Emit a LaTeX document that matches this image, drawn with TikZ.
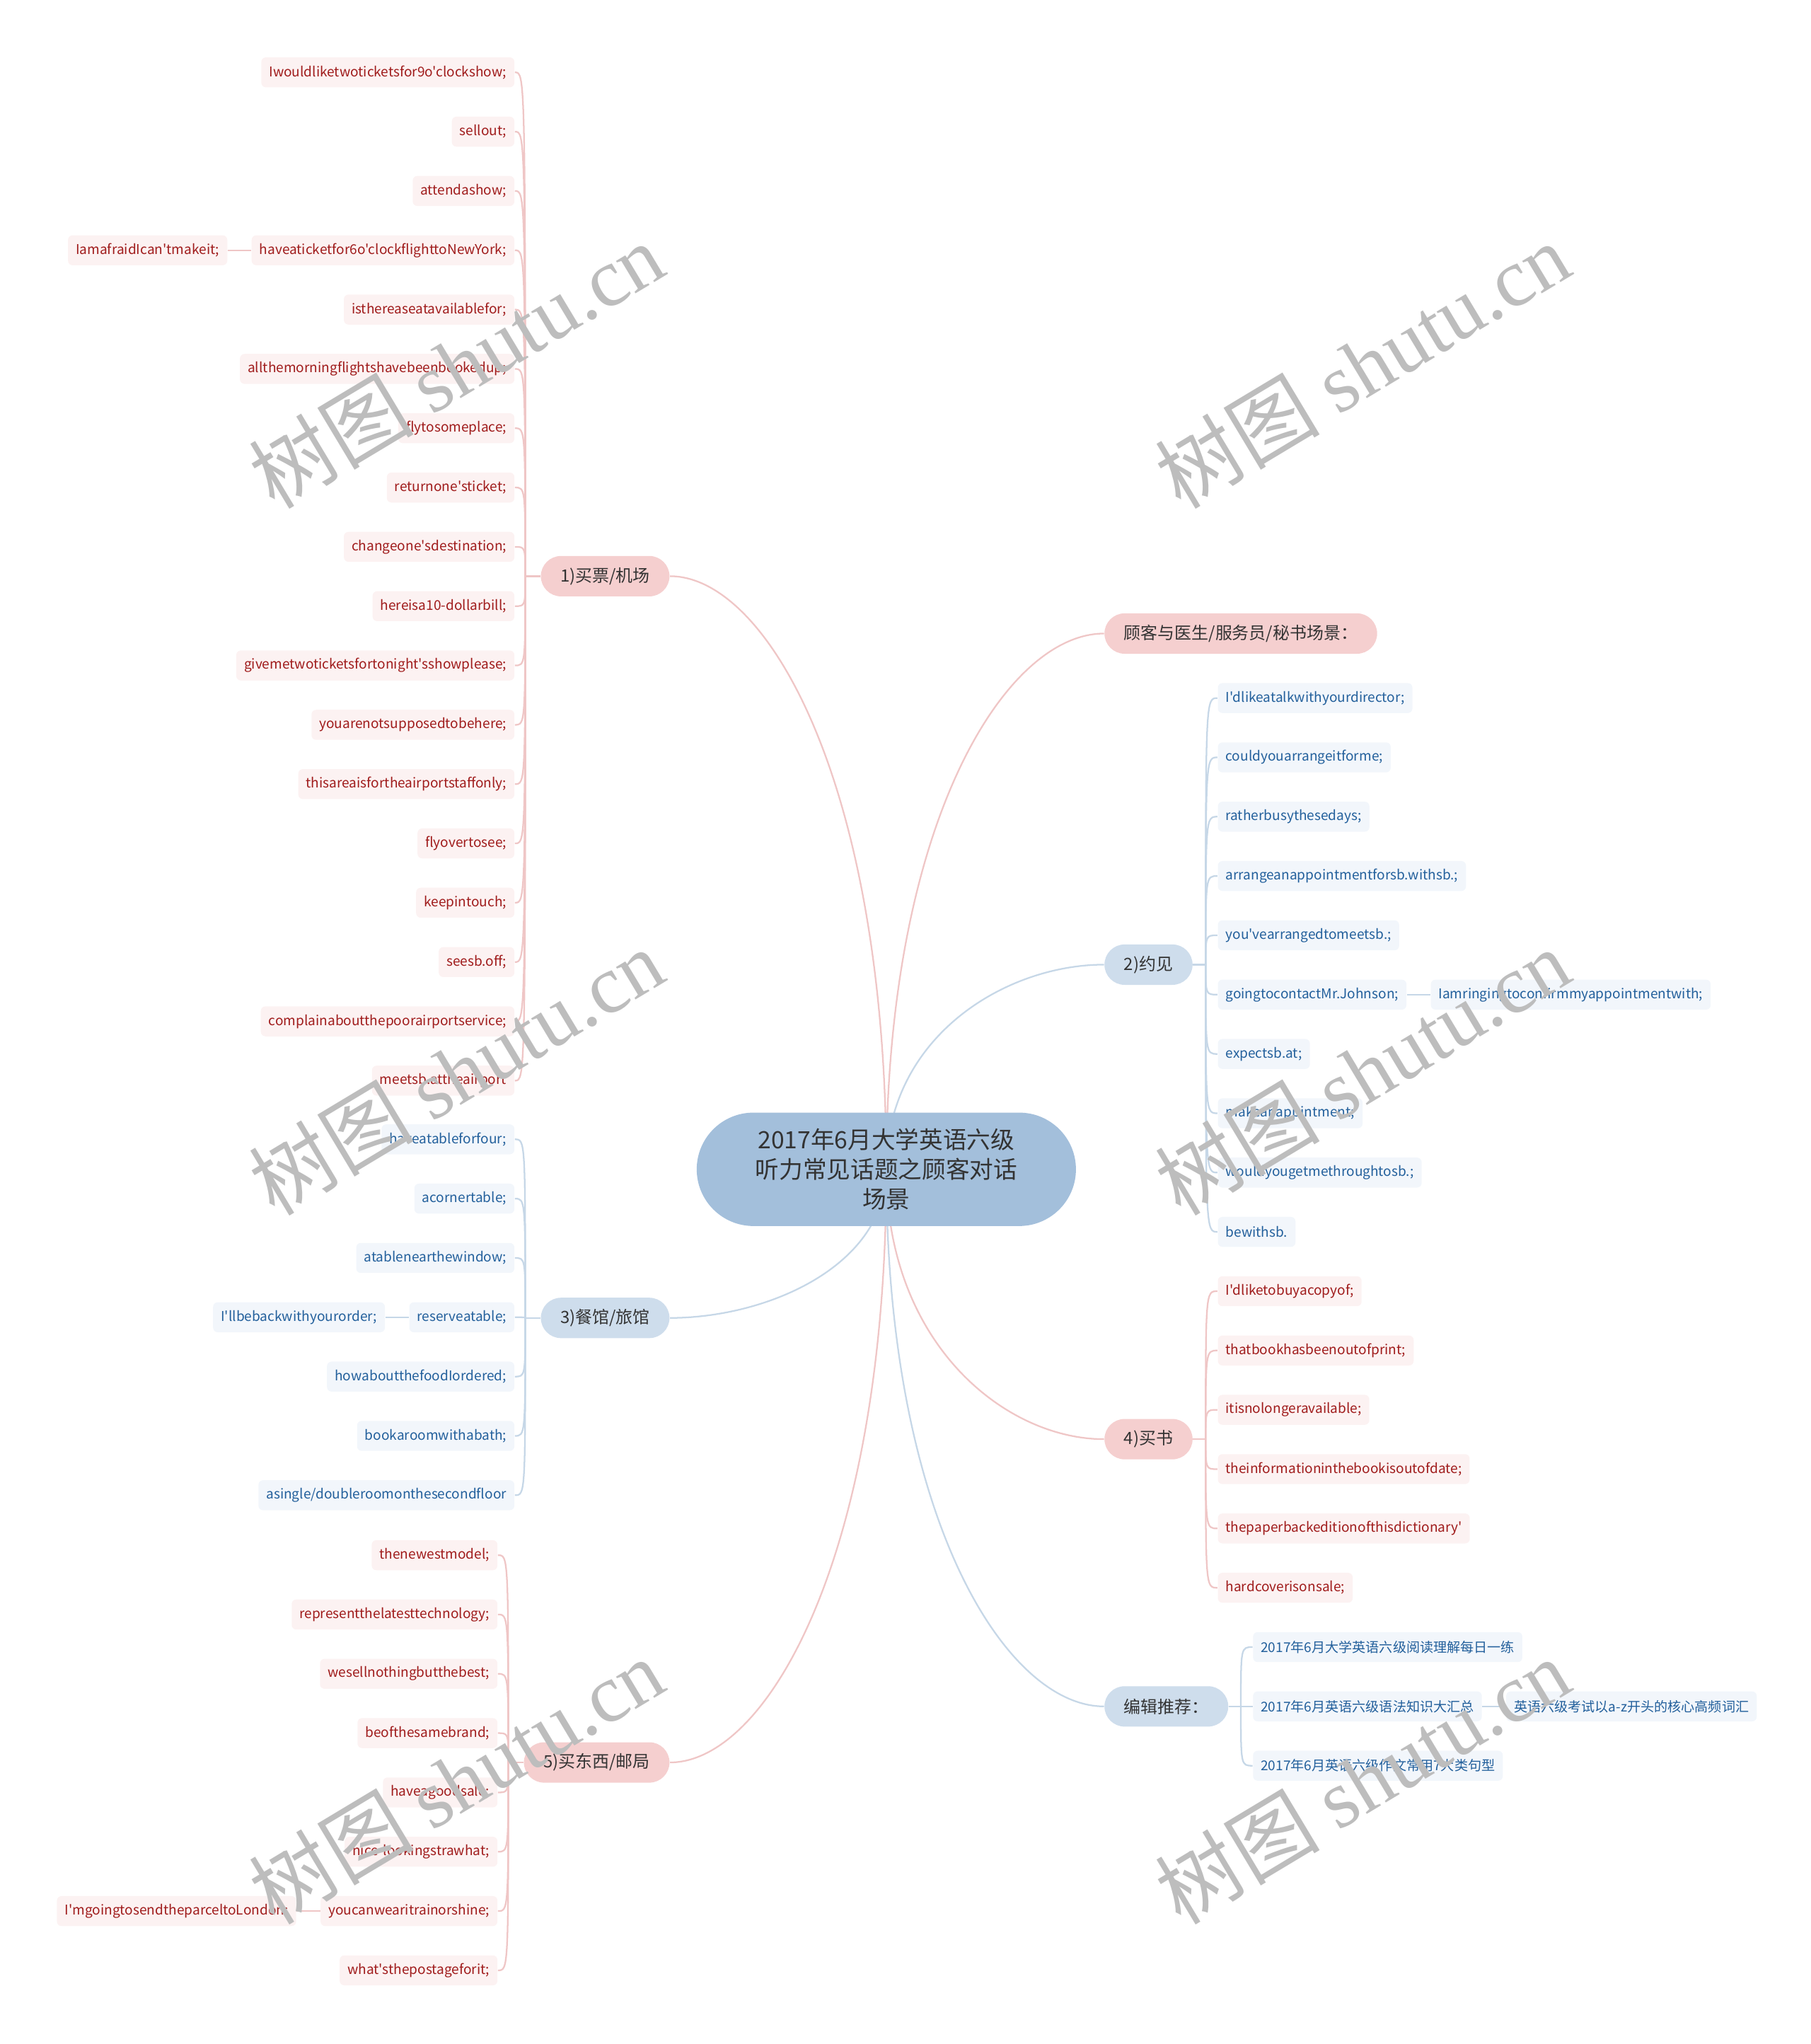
\documentclass[tikz,border=0pt]{standalone}
\usepackage{fontspec}
\setmainfont{Noto Sans CJK SC}[Ligatures=TeXOff]
\newfontfamily\wmlatin{Liberation Serif}
\usetikzlibrary{positioning,calc,backgrounds}
\definecolor{rootblue}{HTML}{A3BFDB}
\definecolor{bpink}{HTML}{F5CFCF}
\definecolor{bblue}{HTML}{CEDDEC}
\definecolor{lpink}{HTML}{FCF2F2}
\definecolor{lblue}{HTML}{F2F6FB}
\definecolor{tred}{HTML}{A01C1C}
\definecolor{tblue}{HTML}{23609C}
\definecolor{kpink}{HTML}{EFC6C6}
\definecolor{kblue}{HTML}{C6D7E7}
\definecolor{tdark}{HTML}{333333}
\begin{document}
\begin{tikzpicture}[x=0.02cm, y=-0.02cm,
  every node/.style={inner sep=0pt},
  leaf/.style={rounded corners=2pt, minimum height=0.46cm, inner xsep=0.12cm,
    font=\fontsize{5.9}{7}\selectfont},
  leafred/.style={leaf, fill=lpink, text=tred},
  leafblue/.style={leaf, fill=lblue, text=tblue},
  topic/.style={rounded corners=0.31cm, minimum height=0.62cm, inner xsep=0.3cm,
    text=tdark, font=\fontsize{7.4}{9}\selectfont},
  topicred/.style={topic, fill=bpink},
  topicblue/.style={topic, fill=bblue},
  linkred/.style={draw=kpink, line width=0.7pt},
  linkblue/.style={draw=kblue, line width=0.7pt},
  watermark/.style={text=black!26, font=\fontsize{36}{36}\selectfont, rotate=31}
]
\useasboundingbox (0,0) rectangle (1389,1568);

% central topic
\node[fill=rootblue, rounded corners=0.87cm, minimum width=5.82cm, minimum height=1.74cm,
  align=center, text=tdark, font=\fontsize{10.4}{13}\selectfont] (root) at (680,897)
  {2017年6月大学英语六级\\听力常见话题之顾客对话\\场景};

% main topics
\node[topicred, anchor=east] (b1) at (514,442) {1)买票/机场};
\node[topicblue, anchor=east] (b3) at (514,1011) {3)餐馆/旅馆};
\node[topicred, anchor=east] (b5) at (514,1352) {5)买东西/邮局};
\node[topicred, anchor=west] (b0) at (847,486) {顾客与医生/服务员/秘书场景：};
\node[topicblue, anchor=west] (b2) at (847,740) {2)约见};
\node[topicred, anchor=west] (b4) at (847,1104) {4)买书};
\node[topicblue, anchor=west] (b6) at (847,1309) {编辑推荐：};

% 1) tickets / airport
\foreach \t [count=\i] in {Iwouldliketwoticketsfor9o'clockshow;, sellout;, attendashow;,
    haveaticketfor6o'clockflighttoNewYork;, isthereaseatavailablefor;,
    allthemorningflightshavebeenbookedup;, flytosomeplace;, returnone'sticket;,
    changeone'sdestination;, hereisa10-dollarbill;, givemetwoticketsfortonight'sshowplease;,
    youarenotsupposedtobehere;, thisareaisfortheairportstaffonly;, flyovertosee;,
    keepintouch;, seesb.off;, complainaboutthepoorairportservice;, meetsb.attheairport}
  \node[leafred, anchor=east] (a\i) at (395,10+\i*45.5) {\t};
\node[leafred, left=0.36cm of a4] (a4c) {IamafraidIcan'tmakeit;};

% 3) restaurant / hotel
\foreach \t [count=\i] in {haveatableforfour;, acornertable;, atablenearthewindow;,
    reserveatable;, howaboutthefoodIordered;, bookaroomwithabath;,
    asingle/doubleroomonthesecondfloor}
  \node[leafblue, anchor=east] (c\i) at (395,828.5+\i*45.5) {\t};
\node[leafblue, left=0.36cm of c4] (c4c) {I'llbebackwithyourorder;};

% 5) shopping / post office
\foreach \t [count=\i] in {thenewestmodel;, representthelatesttechnology;,
    wesellnothingbutthebest;, beofthesamebrand;, haveagoodsale;,
    nice-lookingstrawhat;, youcanwearitrainorshine;, what'sthepostageforit;}
  \node[leafred, anchor=east] (e\i) at (382,1147.5+\i*45.5) {\t};
\node[leafred, left=0.36cm of e7] (e7c) {I'mgoingtosendtheparceltoLondon;};

% 2) appointments
\foreach \t [count=\i] in {I'dlikeatalkwithyourdirector;, couldyouarrangeitforme;,
    ratherbusythesedays;, arrangeanappointmentforsb.withsb.;, you'vearrangedtomeetsb.;,
    goingtocontactMr.Johnson;, expectsb.at;, makeanappintment;,
    wouldyougetmethroughtosb.;, bewithsb.}
  \node[leafblue, anchor=west] (d\i) at (934,490+\i*45.5) {\t};
\node[leafblue, right=0.36cm of d6] (d6c) {Iamringingtoconfirmmyappointmentwith;};

% 4) books
\foreach \t [count=\i] in {I'dliketobuyacopyof;, thatbookhasbeenoutofprint;,
    itisnolongeravailable;, theinformationinthebookisoutofdate;,
    thepaperbackeditionofthisdictionary', hardcoverisonsale;}
  \node[leafred, anchor=west] (f\i) at (934,945+\i*45.5) {\t};

% editor picks
\foreach \t [count=\i] in {2017年6月大学英语六级阅读理解每日一练, 2017年6月英语六级语法知识大汇总,
    2017年6月英语六级作文常用7大类句型}
  \node[leafblue, anchor=west] (g\i) at (961,1218+\i*45.5) {\t};
\node[leafblue, right=0.36cm of g2] (g2c) {英语六级考试以a-z开头的核心高频词汇};

\begin{scope}[on background layer]
  % branches
  \foreach \b/\a/\c in {b1/east/linkred, b3/east/linkblue, b5/east/linkred,
      b0/west/linkred, b2/west/linkblue, b4/west/linkred, b6/west/linkblue}
    \draw[\c] (root.center) .. controls ($(root.center |- \b.\a)!0.35!(root.center)$)
      and ($(root.center |- \b.\a)!0.55!(\b.\a)$) .. (\b.\a);

  % trunks
  \coordinate (j1) at (403,442);
  \coordinate (j3) at (403,1011);
  \coordinate (j5) at (390,1352);
  \coordinate (j2) at (925,740);
  \coordinate (j4) at (925,1104);
  \coordinate (j6) at (952,1309);
  \draw[linkred] (b1.west) -- (j1);
  \draw[linkblue] (b3.west) -- (j3);
  \draw[linkred] (b5.west) -- (j5);
  \draw[linkblue] (b2.east) -- (j2);
  \draw[linkred] (b4.east) -- (j4);
  \draw[linkblue] (b6.east) -- (j6);

  \foreach \i in {1,...,18}
    \draw[linkred] (j1) .. controls (j1 |- a\i.east) .. (a\i.east);
  \foreach \i in {1,...,7}
    \draw[linkblue] (j3) .. controls (j3 |- c\i.east) .. (c\i.east);
  \foreach \i in {1,...,8}
    \draw[linkred] (j5) .. controls (j5 |- e\i.east) .. (e\i.east);
  \foreach \i in {1,...,10}
    \draw[linkblue] (j2) .. controls (j2 |- d\i.west) .. (d\i.west);
  \foreach \i in {1,...,6}
    \draw[linkred] (j4) .. controls (j4 |- f\i.west) .. (f\i.west);
  \foreach \i in {1,...,3}
    \draw[linkblue] (j6) .. controls (j6 |- g\i.west) .. (g\i.west);

  % sub leaves
  \draw[linkred] (a4.west) -- (a4c.east);
  \draw[linkblue] (c4.west) -- (c4c.east);
  \draw[linkred] (e7.west) -- (e7c.east);
  \draw[linkblue] (d6.east) -- (d6c.west);
  \draw[linkblue] (g2.east) -- (g2c.west);
\end{scope}

% watermark
\foreach \x/\y [count=\k] in {350/280, 1045/280, 350/822, 1045/822, 350/1366, 1045/1366}
  \node[watermark] (w\k) at (\x,\y) {树图 {\wmlatin shutu.cn}};
\end{tikzpicture}
\end{document}
